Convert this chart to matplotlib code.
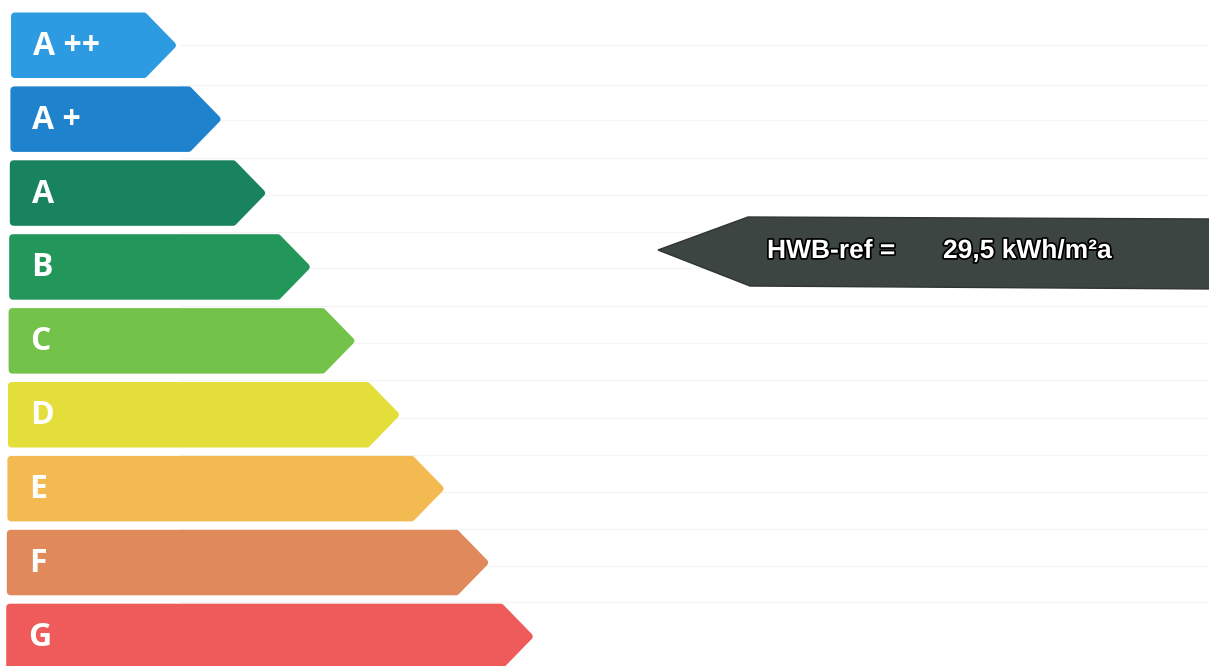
import matplotlib
matplotlib.use("Agg")
import matplotlib.pyplot as plt
from matplotlib.patches import Polygon
import matplotlib.patheffects as pe

# ---- data ----
classes = ["A ++", "A +", "A", "B", "C", "D", "E", "F", "G"]
class_colors = ["#2D9BE1", "#1E82CD", "#19825F", "#23965A", "#73C34B",
                "#E4DE3A", "#F4BA52", "#E08A5C", "#EF5B5A"]
hwb_label = "HWB-ref ="
hwb_value = "29,5 kWh/m²a"

W, H = 1209, 666
fig = plt.figure(figsize=(W / 100, H / 100), dpi=100)
ax = fig.add_axes([0, 0, 1, 1])
ax.set_xlim(0, W)
ax.set_ylim(H, 0)
ax.axis("off")

# faint scan lines in background
for y in [45, 85, 120, 158, 195, 232, 268, 306, 343, 380, 418, 455, 492, 529, 566, 602]:
    ax.plot([180, W], [y, y], color="#F4F4F4", lw=0.8, zorder=0)

left = 11
top0 = 12.5
pitch = 73.9
height = 65.5
tip0 = 176
tip_step = 44.6
point = 32
r = 3.5

for i, (lab, col) in enumerate(zip(classes, class_colors)):
    y0 = top0 + i * pitch
    y1 = y0 + height
    yc = (y0 + y1) / 2
    tip = tip0 + i * tip_step
    xl = left - i * 0.6
    pts = [(xl + r, y0 + r), (tip - point, y0 + r), (tip - r, yc),
           (tip - point, y1 - r), (xl + r, y1 - r)]
    poly = Polygon(pts, closed=True, facecolor=col, edgecolor=col,
                   lw=2 * r * 72 / 100, joinstyle="round", zorder=2)
    ax.add_patch(poly)
    ax.text(xl + 22, yc + 1, lab, color="white", fontsize=23, fontweight="bold",
            family="Open Sans", va="center", ha="left", zorder=3)

# indicator arrow
ptr = Polygon([(658, 250), (748, 217), (W + 5, 219), (W + 5, 289), (750, 286)],
              closed=True, facecolor="#3C4541", edgecolor="#2E3532", lw=1, zorder=2)
ax.add_patch(ptr)
outline = [pe.withStroke(linewidth=2.5, foreground="black")]
ax.text(767, 251, hwb_label, color="white", fontsize=19, fontweight="bold",
        family="Liberation Sans", va="center", ha="left", zorder=3,
        path_effects=outline)
ax.text(943, 251, hwb_value, color="white", fontsize=19, fontweight="bold",
        family="Liberation Sans", va="center", ha="left", zorder=3,
        path_effects=outline)

fig.savefig("out.png", dpi=100, facecolor="white")
